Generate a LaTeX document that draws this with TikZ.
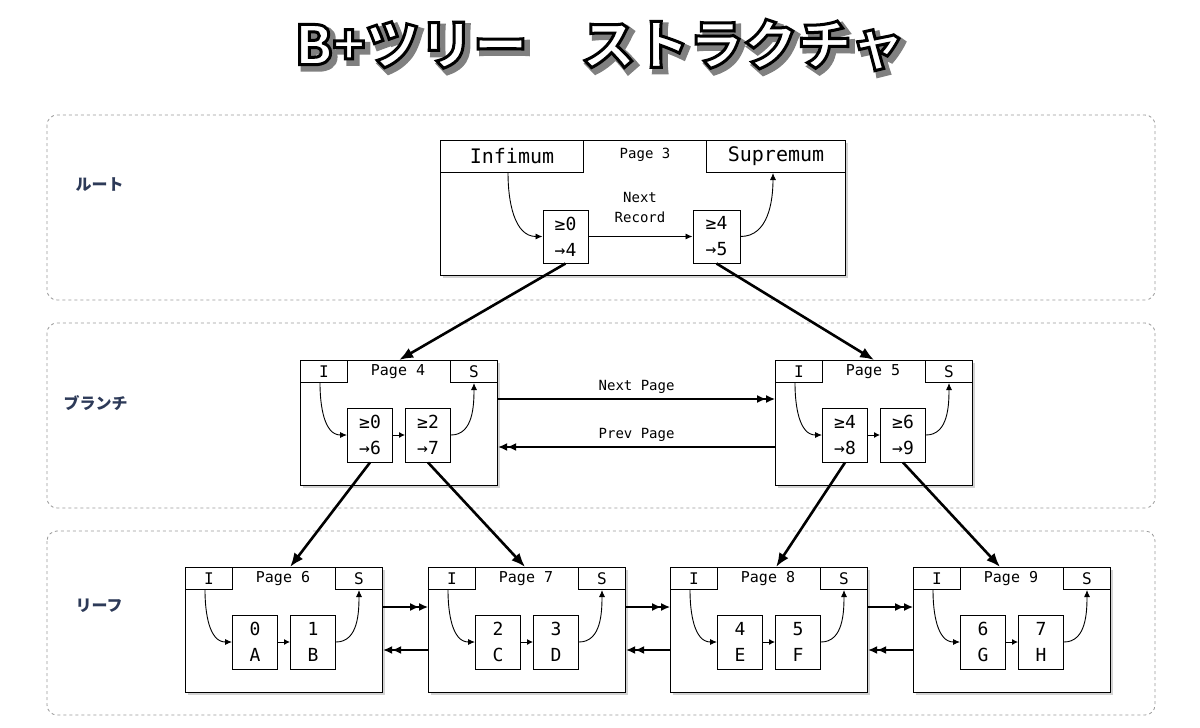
\documentclass[tikz,border=0pt]{standalone}
\usepackage{fontspec}
\newfontfamily\cjk{Noto Sans CJK JP}
\newfontfamily\mono{DejaVu Sans Mono}
\usetikzlibrary{arrows.meta,shadows,calc}
\definecolor{secc}{HTML}{2D3A58}
\begin{document}
\begin{tikzpicture}[x=1pt,y=-1pt,
  panel/.style={draw=gray!80,dashed,rounded corners=10pt,line width=0.8pt},
  sec/.style={font=\cjk\bfseries\fontsize{16}{16}\selectfont,text=secc,anchor=west},
  page/.style={draw,line width=1.2pt,fill=white,anchor=north west,inner sep=0,drop shadow={shadow xshift=2pt,shadow yshift=-2pt,opacity=0.35}},
  hbox/.style={draw,line width=1pt,anchor=north west,inner sep=0,minimum height=22pt,font=\mono\fontsize{16}{16}\selectfont},
  rec/.style={draw,line width=1pt,minimum width=45pt,minimum height=54pt,inner sep=0,align=center,font=\mono\fontsize{18}{26}\selectfont},
  lbl/.style={font=\mono\fontsize{14}{20}\selectfont,align=center},
  thin/.style={line width=0.9pt,-{Latex[length=7pt,width=6pt]}},
  thick/.style={line width=2.6pt,-{Latex[length=14pt,width=11pt]}},
  dbl/.style={line width=1.3pt,-{Latex[length=9pt,width=8pt]Latex[length=9pt,width=8pt]}},
  ttl/.style={font=\cjk\bfseries\fontsize{54}{54}\selectfont}]
\useasboundingbox (0,0) rectangle (1200,728);
% title
\node[ttl,text=gray] (tsh) at (604,49) {\special{pdf:literal 2 Tr 6 w 0.5 0.5 0.5 RG 0.5 g}B+ツリー　ストラクチャ\special{pdf:literal 0 Tr}};
\node[ttl,text=white] (title) at (600,45) {\special{pdf:literal 2 Tr 3 w 0 0 0 RG 1 g}B+ツリー　ストラクチャ\special{pdf:literal 0 Tr}};
% panels
\draw[panel] (47,115) rectangle (1155,300);
\draw[panel] (47,323) rectangle (1155,508);
\draw[panel] (47,531) rectangle (1155,715);
\node[sec] (s1) at (72,185) {ルート};
\node[sec] (s2) at (60,403) {ブランチ};
\node[sec] (s3) at (72,606) {リーフ};
% root
\node[page,minimum width=405pt,minimum height=135pt] (p3) at (440,140) {};
\node[hbox,minimum width=143pt,font=\mono\fontsize{20}{20}\selectfont,minimum height=32pt] (inf) at (440,140) {Infimum};
\node[hbox,minimum width=139pt,font=\mono\fontsize{20}{20}\selectfont,minimum height=32pt] (sup) at (706,140) {Supremum};
\node[lbl] (p3l) at (645,155) {Page 3};
\node[rec,minimum height=53pt] (r30) at (565.5,236.5) {≥0\\→4};
\node[rec,minimum height=53pt,minimum width=47pt] (r34) at (716.5,236.5) {≥4\\→5};
\node[lbl] (nr) at (640,207) {Next\\Record};
\draw[thin] (r30) -- (r34);
\draw[thin] (inf.south -| 508,0) to[out=-90,in=180] (r30.west);
\draw[thin] (r34.east) to[out=0,in=-90] (sup.south -| 773,0);
% generic page
\newcommand\mkpage[6]{%
 \node[page,minimum width=197pt,minimum height=125pt] (#1) at (#2,#3) {};
 \node[hbox,minimum width=47pt] (#1I) at (#2,#3) {I};
 \node[hbox,minimum width=47pt] (#1S) at ($(#2,#3)+(150,0)$) {S};
 \node[lbl,font=\mono\fontsize{15}{15}\selectfont] (#1L) at ($(#2,#3)+(98,12)$) {#4};
 \node[rec] (#1a) at ($(#2,#3)+(70,75)$) {#5};
 \node[rec] (#1b) at ($(#2,#3)+(128,75)$) {#6};
 \draw[thin,-{Latex[length=6pt,width=6pt]}] (#1a) -- (#1b);
 \draw[thin] ($(#1I.south)+(-4,0)$) to[out=-90,in=180] (#1a.west);
 \draw[thin] (#1b.east) to[out=0,in=-90] (#1S.south);
}
\mkpage{p4}{300}{360}{Page 4}{≥0\\→6}{≥2\\→7}
\mkpage{p5}{775}{360}{Page 5}{≥4\\→8}{≥6\\→9}
\mkpage{p6}{185}{567}{Page 6}{0\\A}{1\\B}
\mkpage{p7}{428}{567}{Page 7}{2\\C}{3\\D}
\mkpage{p8}{670}{567}{Page 8}{4\\E}{5\\F}
\mkpage{p9}{913}{567}{Page 9}{6\\G}{7\\H}
% root to branch
\draw[thick] (r30.south) -- (p4.north);
\draw[thick] (r34.south) -- (p5.north);
% branch to leaf
\draw[thick] (p4a.south) -- ($(p6.north)+(6,0)$);
\draw[thick] (p4b.south) -- ($(p7.north)+(-2,0)$);
\draw[thick] (p5a.south) -- ($(p8.north)+(7,0)$);
\draw[thick] (p5b.south) -- ($(p9.north)+(-12,0)$);
% next/prev page
\draw[dbl] (p4.east |- 0,399) -- (p5.west |- 0,399) node[lbl,midway,above=2pt] (np) {Next Page};
\draw[dbl] (p5.west |- 0,447) -- (p4.east |- 0,447) node[lbl,midway,above=2pt] (pp) {Prev Page};
\foreach \a/\b in {p6/p7,p7/p8,p8/p9}{
 \draw[dbl] (\a.east |- 0,607) -- (\b.west |- 0,607);
 \draw[dbl] (\b.west |- 0,650) -- (\a.east |- 0,650);
}
\end{tikzpicture}
\end{document}
